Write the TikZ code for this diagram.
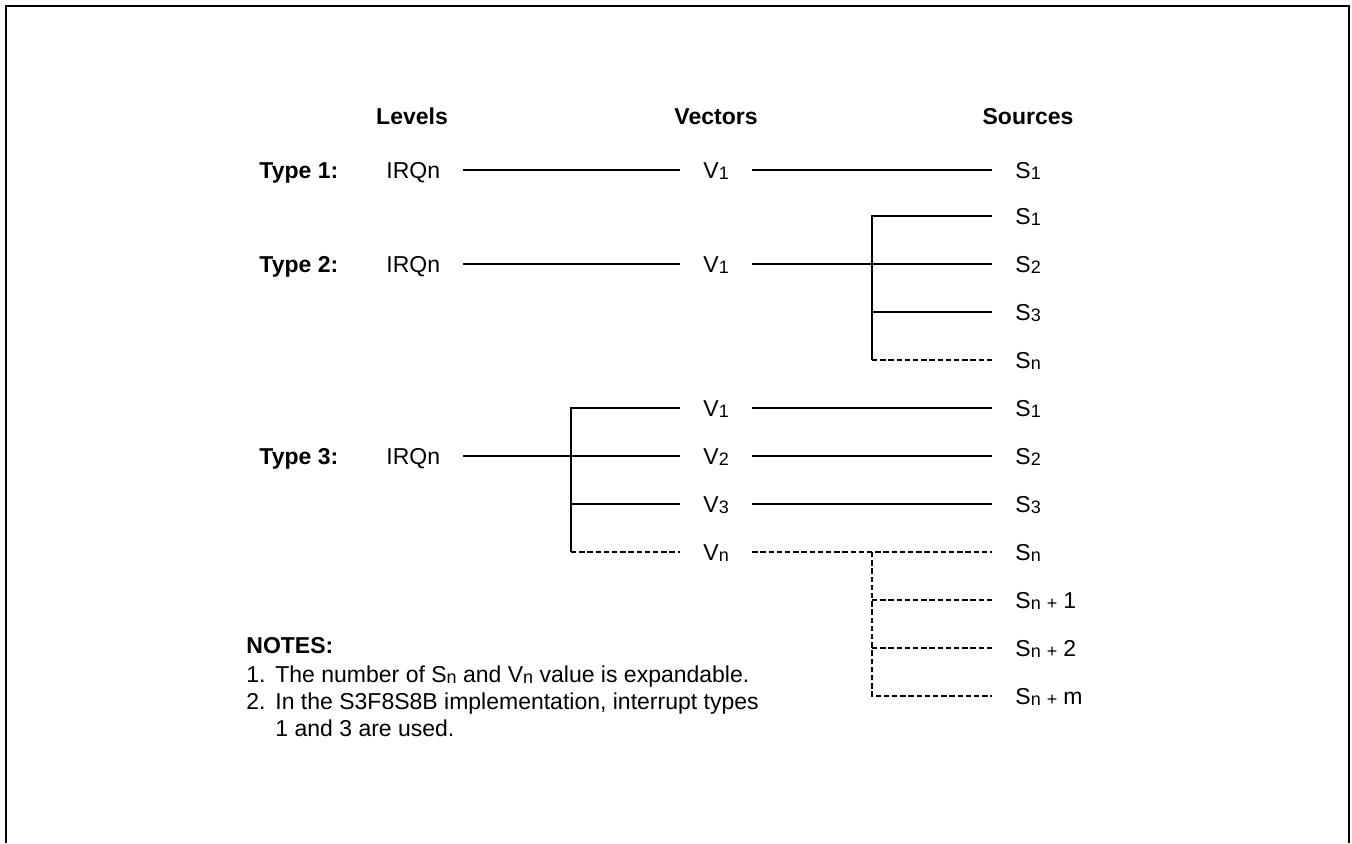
\documentclass[tikz,border=0pt]{standalone}
\usepackage{fontspec}
\setmainfont{Liberation Sans}
\newcommand\lsub[1]{\raisebox{-0.6pt}{\fontsize{9}{10}\selectfont #1}}
\begin{document}
\begin{tikzpicture}[x=0.5pt,y=-0.5pt,
  txt/.style={font=\fontsize{11.5}{13.8}\selectfont, text height=8.2pt, text depth=0pt, inner ysep=0pt},
  lbl/.style={txt, inner xsep=11.5pt, anchor=west},
  plain/.style={txt, inner xsep=0pt, anchor=west},
  bold/.style={plain, font=\fontsize{11.5}{13.8}\selectfont\bfseries},
  head/.style={txt, inner xsep=0pt, font=\fontsize{11.5}{13.8}\selectfont\bfseries},
  conn/.style={line width=0.75pt},
  dconn/.style={line width=0.9pt, dash pattern=on 2.7pt off 1.4pt}]
\useasboundingbox (0,0) rectangle (1352,843);
\draw[line width=1pt] (6,843) -- (6,6) -- (1349,6) -- (1349,843);
% headers
\node[head] (hl) at (412,116) {Levels};
\node[head] (hv) at (716,116) {Vectors};
\node[head] (hs) at (1028,116) {Sources};
% type labels
\node[bold] (t1) at (259,170) {Type 1:};
\node[bold] (t2) at (259,264) {Type 2:};
\node[bold] (t3) at (259,456) {Type 3:};
% type 1
\node[lbl] (i1) at (363,170) {IRQn};
\node[lbl] (v11) at (680,170) {V\lsub{1}};
\node[lbl] (s11) at (992,170) {S\lsub{1}};
% type 2
\node[lbl] (i2) at (363,264) {IRQn};
\node[lbl] (v21) at (680,264) {V\lsub{1}};
\node[lbl] (s21) at (992,216) {S\lsub{1}};
\node[lbl] (s22) at (992,264) {S\lsub{2}};
\node[lbl] (s23) at (992,312) {S\lsub{3}};
\node[lbl] (s2n) at (992,360) {S\lsub{n}};
% type 3
\node[lbl] (i3) at (363,456) {IRQn};
\node[lbl] (v31) at (680,408) {V\lsub{1}};
\node[lbl] (v32) at (680,456) {V\lsub{2}};
\node[lbl] (v33) at (680,504) {V\lsub{3}};
\node[lbl] (v3n) at (680,552) {V\lsub{n}};
\node[lbl] (s31) at (992,408) {S\lsub{1}};
\node[lbl] (s32) at (992,456) {S\lsub{2}};
\node[lbl] (s33) at (992,504) {S\lsub{3}};
\node[lbl] (s3n) at (992,552) {S\lsub{n}};
\node[lbl] (s3a) at (992,600) {S\lsub{n\hspace{3pt}+\hspace{3pt}}1};
\node[lbl] (s3b) at (992,648) {S\lsub{n\hspace{3pt}+\hspace{3pt}}2};
\node[lbl] (s3m) at (992,696) {S\lsub{n\hspace{3pt}+\hspace{3pt}}m};
\coordinate (b2) at (872,0);
\coordinate (b3) at (571,0);
% connectors type 1
\draw[conn] (i1.east) -- (v11.west);
\draw[conn] (v11.east) -- (s11.west);
% type 2
\draw[conn] (i2.east) -- (v21.west);
\draw[conn] (v21.east) -- (s22.west);
\draw[conn] (s21.west) -- (s21.west -| b2) -- (s2n.west -| b2);
\draw[conn] (s23.west -| b2) -- (s23.west);
\draw[dconn] (s2n.west -| b2) -- (s2n.west);
% type 3
\draw[conn] (i3.east) -- (v32.west);
\draw[conn] (v31.west) -- (v31.west -| b3) -- (v3n.west -| b3);
\draw[conn] (v33.west -| b3) -- (v33.west);
\draw[dconn] (v3n.west -| b3) -- (v3n.west);
\draw[conn] (v31.east) -- (s31.west);
\draw[conn] (v32.east) -- (s32.west);
\draw[conn] (v33.east) -- (s33.west);
\draw[dconn] (v3n.east) -- (s3n.west);
\draw[dconn] (s3n.west -| b2) -- (s3m.west -| b2) -- (s3m.west);
\draw[dconn] (s3a.west -| b2) -- (s3a.west);
\draw[dconn] (s3b.west -| b2) -- (s3b.west);
% notes
\node[bold] (n0) at (246,645) {NOTES:};
\node[plain] (n1a) at (246,674) {1.};
\node[plain] (n1b) at (275,674) {The number of S\lsub{n} and V\lsub{n} value is expandable.};
\node[plain] (n2a) at (246,701) {2.};
\node[plain] (n2b) at (275,701) {In the S3F8S8B implementation, interrupt types};
\node[plain] (n3b) at (275,728) {1 and 3 are used.};
\end{tikzpicture}
\end{document}
